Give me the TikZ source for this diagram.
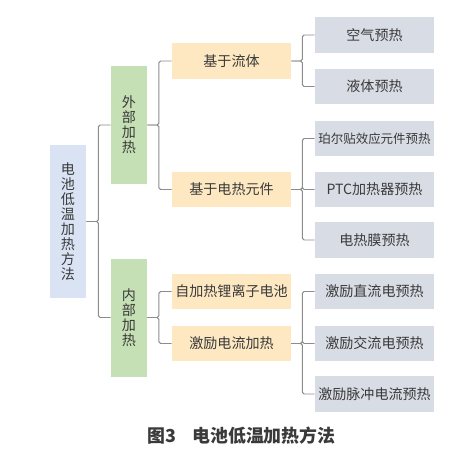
\documentclass[tikz,border=0pt]{standalone}
\usepackage{fontspec}
\setmainfont{Noto Sans CJK SC}
\definecolor{raiz}{HTML}{DAE3F3}
\definecolor{verde}{HTML}{C5E0B4}
\definecolor{laranja}{HTML}{FDE8C2}
\definecolor{cinza}{HTML}{D8DCE4}
\definecolor{linha}{HTML}{8C8C8C}
\definecolor{texto}{HTML}{3A3A3A}
\tikzset{
  caixa/.style={inner sep=0pt, text=texto, font=\fontsize{8}{8.5}\selectfont, align=center},
  raizbox/.style={caixa, fill=raiz, minimum width=0.72cm, minimum height=3.06cm},
  verdebox/.style={caixa, fill=verde, minimum width=0.72cm, minimum height=2.36cm},
  laranjabox/.style={caixa, fill=laranja, minimum width=2.38cm, minimum height=0.71cm},
  cinzabox/.style={caixa, fill=cinza, minimum width=2.38cm, minimum height=0.71cm},
  ligacao/.style={draw=linha, line width=0.55pt, rounded corners=1pt},
  cotovelo/.style={to path={-- ++(#1,0) |- (\tikztotarget)}}
}
\begin{document}
\begin{tikzpicture}
  \useasboundingbox (0,0) rectangle (9.5,-9.18);
  % Raiz
  \node[raizbox] (raiz) at (1.36,-4.43) {电\\池\\低\\温\\加\\热\\方\\法};
  % Ramos principais
  \node[verdebox] (externo) at (2.58,-2.50) {外\\部\\加\\热};
  \node[verdebox] (interno) at (2.58,-6.35) {内\\部\\加\\热};
  % Categorias
  \node[laranjabox] (fluido) at (4.63,-1.22) {基于流体};
  \node[laranjabox] (elemento) at (4.63,-3.79) {基于电热元件};
  \node[laranjabox] (bateria) at (4.63,-5.83) {自加热锂离子电池};
  \node[laranjabox] (corrente) at (4.63,-6.87) {激励电流加热};
  % Metodos
  \node[cinzabox] (ar) at (7.49,-0.70) {空气预热};
  \node[cinzabox] (liquido) at (7.49,-1.73) {液体预热};
  \node[cinzabox, font=\fontsize{7.1}{8}\selectfont] (peltier) at (7.49,-2.77) {珀尔贴效应元件预热};
  \node[cinzabox] (ptc) at (7.49,-3.79) {PTC加热器预热};
  \node[cinzabox] (filme) at (7.49,-4.80) {电热膜预热};
  \node[cinzabox] (cc) at (7.49,-5.83) {激励直流电预热};
  \node[cinzabox] (ca) at (7.49,-6.87) {激励交流电预热};
  \node[cinzabox] (pulso) at (7.49,-7.88) {激励脉冲电流预热};
  % Ligacoes
  \draw[ligacao] (raiz.east) to[cotovelo=0.24] (externo.west);
  \draw[ligacao] (raiz.east) to[cotovelo=0.24] (interno.west);
  \draw[ligacao] (externo.east) to[cotovelo=0.23] (fluido.west);
  \draw[ligacao] (externo.east) to[cotovelo=0.23] (elemento.west);
  \draw[ligacao] (interno.east) to[cotovelo=0.23] (bateria.west);
  \draw[ligacao] (interno.east) to[cotovelo=0.23] (corrente.west);
  \draw[ligacao] (fluido.east) to[cotovelo=0.22] (ar.west);
  \draw[ligacao] (fluido.east) to[cotovelo=0.22] (liquido.west);
  \draw[ligacao] (elemento.east) to[cotovelo=0.22] (peltier.west);
  \draw[ligacao] (elemento.east) to[cotovelo=0.22] (ptc.west);
  \draw[ligacao] (elemento.east) to[cotovelo=0.22] (filme.west);
  \draw[ligacao] (corrente.east) to[cotovelo=0.22] (cc.west);
  \draw[ligacao] (corrente.east) to[cotovelo=0.22] (ca.west);
  \draw[ligacao] (corrente.east) to[cotovelo=0.22] (pulso.west);
  % Legenda
  \node[text=texto, font=\fontsize{10.2}{12}\selectfont\bfseries, inner sep=0pt] (legenda) at (4.83,-8.72) {图3\hspace{0.9em}电池低温加热方法};
\end{tikzpicture}
\end{document}
